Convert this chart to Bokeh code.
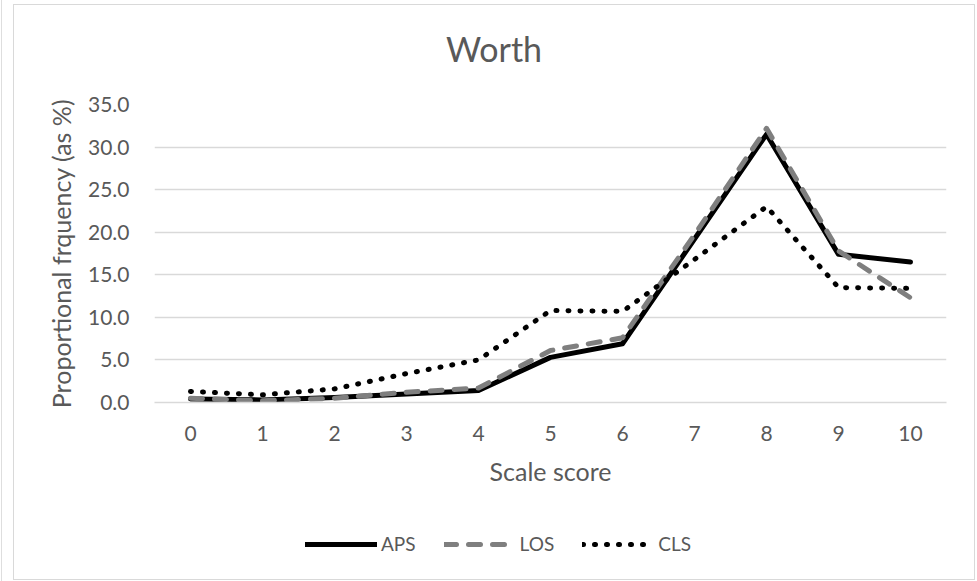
from bokeh.plotting import figure
from bokeh.models import (FixedTicker, NumeralTickFormatter, Legend, LegendItem,
                          ColumnDataSource, Div)
from bokeh.layouts import column
from bokeh.embed import file_html
from bokeh.resources import INLINE

# ---- data ----
scores = [0, 1, 2, 3, 4, 5, 6, 7, 8, 9, 10]
aps = [0.4, 0.3, 0.6, 1.0, 1.4, 5.3, 6.9, 19.2, 31.5, 17.4, 16.5]
los = [0.5, 0.2, 0.5, 1.2, 1.7, 6.1, 7.6, 19.7, 32.2, 17.8, 12.3]
cls = [1.3, 0.9, 1.6, 3.4, 5.0, 10.8, 10.7, 16.8, 23.0, 13.5, 13.4]
y_ticks = [0, 5, 10, 15, 20, 25, 30, 35]
series_names = ["APS", "LOS", "CLS"]
chart_title = "Worth"
x_title = "Scale score"
y_title = "Proportional frquency (as %)"

TEXT = "#595959"
GRID = "#d9d9d9"
FONT = "Lato"

STYLES = [dict(line_color="black", line_width=5, line_join="round", line_cap="round"),
          dict(line_color="#7f7f7f", line_width=5, line_dash="12 12",
               line_join="round", line_cap="round"),
          dict(line_color="black", line_width=5, line_dash="1 11",
               line_join="round", line_cap="round")]

src = ColumnDataSource(dict(x=scores, APS=aps, LOS=los, CLS=cls))

# ---- title ----
title_div = Div(text=(f'<div style="text-align:center;width:960px;padding-top:23px;'
                      f'font-family:{FONT};font-size:34px;color:{TEXT};'
                      f'line-height:normal">{chart_title}</div>'),
                width=960, height=60, margin=0)

# ---- main chart ----
p = figure(width=960, height=435, x_range=(-0.5, 10.5), y_range=(0, 35),
           output_backend="svg", toolbar_location=None,
           min_border_left=140, min_border_right=28,
           min_border_top=39, min_border_bottom=98)
p.outline_line_color = None
p.background_fill_color = "white"
p.border_fill_color = "white"

p.xaxis.ticker = FixedTicker(ticks=scores)
p.yaxis.ticker = FixedTicker(ticks=y_ticks)
p.yaxis.formatter = NumeralTickFormatter(format="0.0")
for ax in (p.xaxis[0], p.yaxis[0]):
    ax.major_tick_line_color = None
    ax.minor_tick_line_color = None
    ax.major_label_text_font = FONT
    ax.major_label_text_font_size = "21px"
    ax.major_label_text_color = TEXT
    ax.axis_label_text_font = FONT
    ax.axis_label_text_font_size = "25px"
    ax.axis_label_text_font_style = "normal"
    ax.axis_label_text_color = TEXT
p.xaxis.axis_line_color = GRID
p.xaxis.axis_line_width = 1.3
p.yaxis.axis_line_color = None
p.xaxis.major_label_standoff = 17
p.yaxis.major_label_standoff = 19
p.xaxis.axis_label = x_title
p.yaxis.axis_label = y_title
p.xaxis.axis_label_standoff = 12
p.yaxis.axis_label_standoff = 9

p.xgrid.grid_line_color = None
p.ygrid.grid_line_color = GRID
p.ygrid.grid_line_width = 1.3

for name, st in zip(series_names, STYLES):
    p.line("x", name, source=src, **st)

# ---- legend strip ----
lg = figure(width=960, height=79, x_range=(-100, -99), y_range=(-100, -99),
            output_backend="svg", toolbar_location=None,
            min_border=0, x_axis_location=None, y_axis_location=None)
lg.outline_line_color = None
lg.grid.visible = False
lg.background_fill_color = "white"
lg.border_fill_color = "white"
items = []
for name, st in zip(series_names, STYLES):
    r = lg.line("x", name, source=src, **st)
    items.append(LegendItem(label=name, renderers=[r]))
legend = Legend(items=items, orientation="horizontal", location=(151, 24),
                padding=0, margin=0, spacing=28, label_standoff=4,
                glyph_width=72, glyph_height=20, label_height=20,
                label_text_font=FONT, label_text_font_size="19px",
                label_text_color=TEXT, border_line_color=None,
                background_fill_alpha=0)
lg.add_layout(legend, "center")

chart = column(title_div, p, lg, spacing=0,
               styles={"margin-left": "11px", "margin-top": "4px",
                       "border": "1px solid #d9d9d9", "background": "white"})
page = column(chart, spacing=0,
              styles={"margin-left": "1px", "border-left": "1px solid #dedede",
                      "height": "581px"})

open("out.html", "w").write(file_html(page, INLINE))
